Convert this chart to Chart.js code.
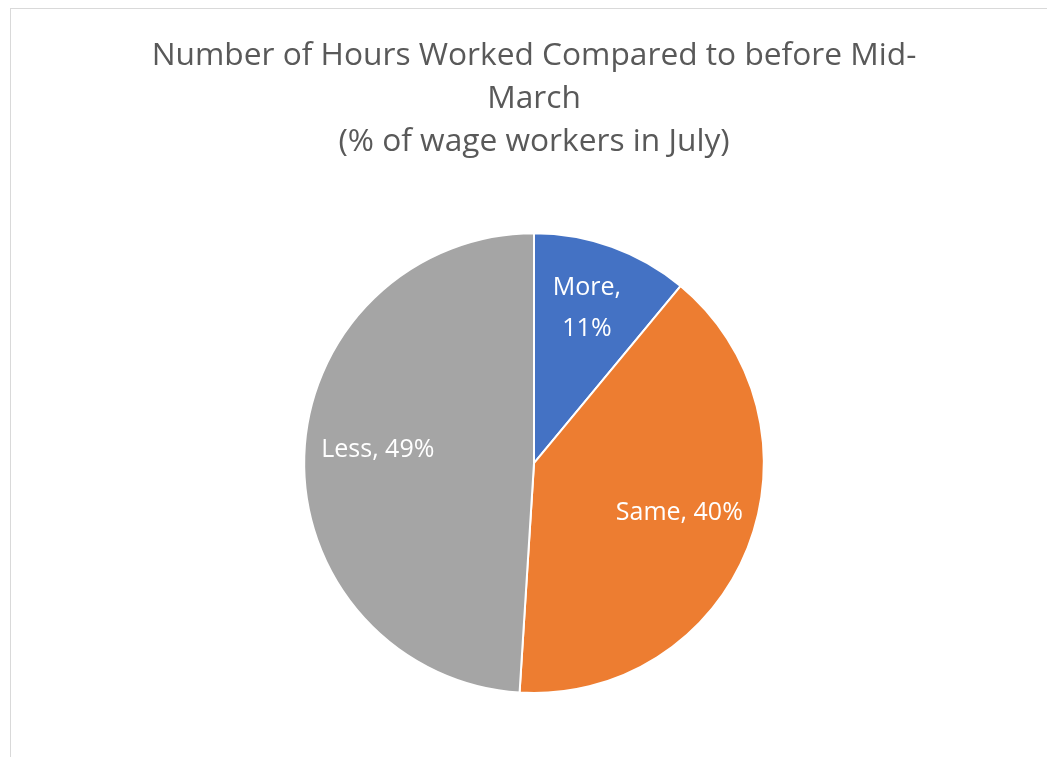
<!DOCTYPE html>
<html>
<head>
<meta charset="utf-8">
<script src="https://cdn.jsdelivr.net/npm/chart.js@4.4.1/dist/chart.umd.min.js"></script>
<style>
  html, body { margin: 0; padding: 0; background: #ffffff; overflow: hidden; }
  #frame { position: absolute; left: 10px; top: 8px; width: 1100px; height: 800px;
           border-left: 1px solid #d9d9d9; border-top: 1px solid #d9d9d9; }
  #wrap { position: absolute; left: 0; top: 0; width: 1047px; height: 757px; }
</style>
</head>
<body>
<div id="frame"></div>
<div id="wrap"><canvas id="c" width="1047" height="757"></canvas></div>
<script>
const categories = ["More", "Same", "Less"];
const shares = [11, 40, 49];
const sliceColors = ["#4472c4", "#ed7d31", "#a5a5a5"];
const titleLines = ["Number of Hours Worked Compared to before Mid-", "March", "(% of wage workers in July)"];
const labelLines = [["More,", "11%"], ["Same, 40%"], ["Less, 49%"]];

const FONT = "'Open Sans', 'DejaVu Sans', sans-serif";

const sliceLabels = {
  id: 'sliceLabels',
  afterDatasetsDraw(chart) {
    const ctx = chart.ctx;
    const meta = chart.getDatasetMeta(0);
    ctx.save();
    ctx.fillStyle = '#ffffff';
    ctx.font = '25px ' + FONT;
    ctx.textAlign = 'center';
    ctx.textBaseline = 'middle';
    meta.data.forEach((arc, i) => {
      const p = arc.getProps(['x', 'y', 'startAngle', 'endAngle', 'outerRadius'], true);
      const mid = (p.startAngle + p.endAngle) / 2;
      const r = p.outerRadius * 0.68;
      const cx = p.x + Math.cos(mid) * r;
      const cy = p.y + Math.sin(mid) * r - 8;
      const lines = labelLines[i];
      const lh = 41;
      lines.forEach((t, k) => {
        ctx.fillText(t, cx, cy + (k - (lines.length - 1) / 2) * lh);
      });
    });
    ctx.restore();
  }
};

new Chart(document.getElementById('c'), {
  type: 'pie',
  data: {
    labels: categories,
    datasets: [{
      data: shares,
      backgroundColor: sliceColors,
      borderColor: '#ffffff',
      borderWidth: 2
    }]
  },
  options: {
    responsive: false,
    animation: false,
    layout: { padding: { left: 21, right: 0, bottom: 63, top: 0 } },
    plugins: {
      legend: { display: false },
      tooltip: { enabled: false },
      title: {
        display: true,
        text: titleLines,
        color: '#595959',
        font: { family: FONT, size: 31.7, weight: 'normal', lineHeight: 1.36 },
        padding: { top: 34, bottom: 69 }
      }
    }
  },
  plugins: [sliceLabels]
});
</script>
</body>
</html>
